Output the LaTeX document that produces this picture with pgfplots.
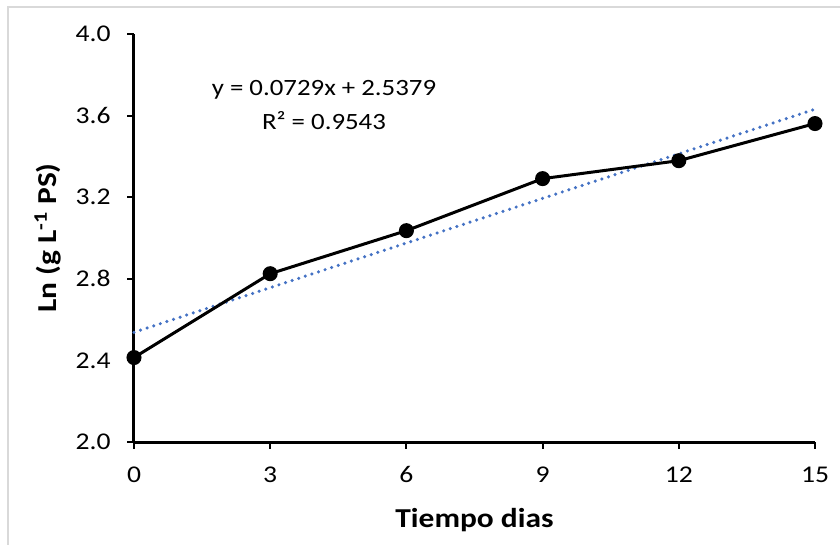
\documentclass[border=0pt]{standalone}
\usepackage{pgfplots}
\pgfplotsset{compat=1.18}
\usepackage{fontspec}
\setmainfont{Carlito}[FakeStretch=1.15]
\definecolor{trend}{HTML}{4472C4}
\begin{document}
\begin{tikzpicture}
\useasboundingbox (-100.5pt,-76.5pt) rectangle (529.5pt,331.5pt);
\draw[black!15, line width=1pt] (-94.5pt,-80pt) -- (-94.5pt,326.25pt) -- (535pt,326.25pt);
\begin{axis}[
  at={(0pt,0pt)}, anchor=south west,
  scale only axis, width=510.75pt, height=306pt,
  xmin=0, xmax=15, ymin=2, ymax=4,
  axis x line=bottom, axis y line=left,
  axis line style={line width=2.25pt, -},
  tick style={line width=1.6pt, black},
  major tick length=5pt, tick align=outside,
  xtick={0,3,6,9,12,15},
  ytick={2,2.4,2.8,3.2,3.6,4},
  /pgf/number format/assume math mode=true,
  yticklabel style={xshift=-9pt, /pgf/number format/.cd, fixed, fixed zerofill, precision=1},
  xticklabel style={yshift=-10pt, /pgf/number format/.cd, fixed, precision=0},
  tick label style={font=\fontsize{18}{20}\selectfont},
  xlabel={Tiempo dias},
  ylabel={Ln (g L\textsuperscript{-1} PS)},
  label style={font=\fontsize{20.5}{22}\selectfont\bfseries},
  xlabel style={at={(axis description cs:0.5,-0.191)}, anchor=center},
  ylabel style={at={(axis description cs:-0.1263,0.5)}, anchor=center, rotate=0},
  clip=false,
]
\addplot[trend, line width=2.6pt, line cap=round, dash pattern=on 0pt off 5.2pt] coordinates {(0,2.5379) (15,3.6314)};
\addplot[black, line width=2.25pt, mark=*, mark size=4.5pt, mark options={solid, fill=black}] coordinates {
(0,2.414) (3,2.825) (6,3.036) (9,3.291) (12,3.379) (15,3.561)};
\node[align=center, font=\fontsize{17.5}{25}\selectfont] at (axis cs:4.185,3.652) {y = 0.0729x + 2.5379\\R² = 0.9543};
\end{axis}
\end{tikzpicture}
\end{document}
